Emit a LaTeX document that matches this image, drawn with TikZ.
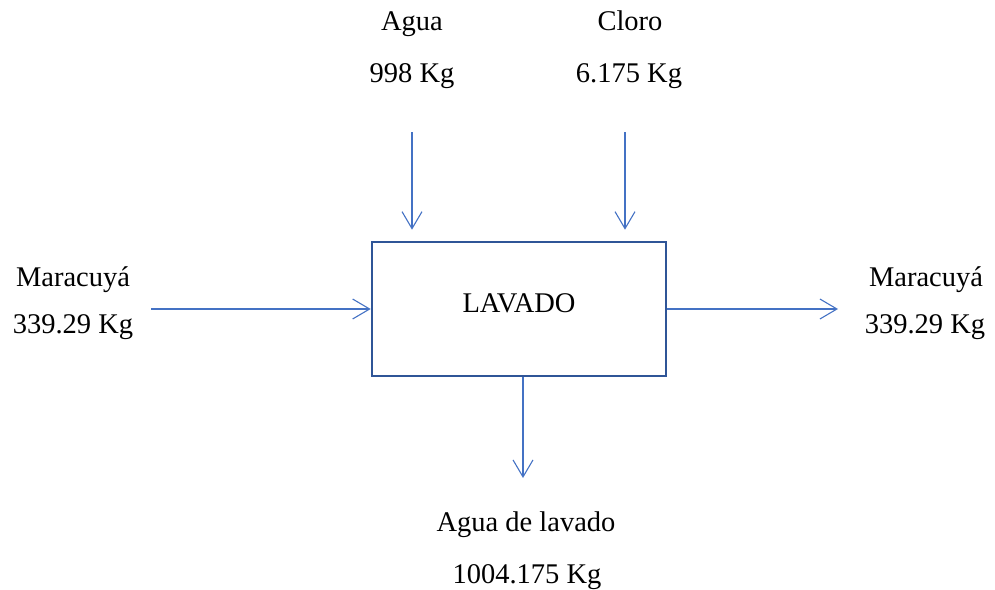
\documentclass[tikz,border=0pt]{standalone}
\usepackage{fontspec}
\setmainfont{Liberation Serif}
\usepackage{tikz}
\usetikzlibrary{arrows.meta}
\usetikzlibrary{positioning}

\definecolor{boxblue}{RGB}{47,85,151}
\definecolor{flowblue}{RGB}{68,114,196}

\begin{document}
\begin{tikzpicture}[x=1pt,y=-1pt,
  txt/.style={anchor=base,inner sep=0pt,font=\fontsize{28.5}{34}\selectfont},
  proc/.style={draw=boxblue,line width=2.6pt,minimum width=294pt,minimum height=134pt,inner sep=0pt},
  flow/.style={draw=flowblue,line width=1.1pt,-{Straight Barb[length=17pt,width=20pt]}}]
\useasboundingbox (0,0) rectangle (995,589);

% proceso
\node[proc] (lavado) at (519,309) {};
\node[txt] (lavado-txt) at (519,312) {LAVADO};

% entradas arriba
\node[txt] (agua) at (412,30) {Agua};
\node[txt] (agua-kg) at (412,82) {998 Kg};
\node[txt] (cloro) at (630,30) {Cloro};
\node[txt] (cloro-kg) at (629,82) {6.175 Kg};

% entrada y salida laterales
\node[txt] (mar-in) at (73,286) {Maracuyá};
\node[txt] (mar-in-kg) at (73,333) {339.29 Kg};
\node[txt] (mar-out) at (926,286) {Maracuyá};
\node[txt] (mar-out-kg) at (925,333) {339.29 Kg};

% salida abajo
\node[txt] (agua-lav) at (526,531) {Agua de lavado};
\node[txt] (agua-lav-kg) at (527,583) {1004.175 Kg};

\coordinate (agua-in) at (412,132);
\coordinate (cloro-in) at (625,132);
\coordinate (mar-start) at (151,309);
\coordinate (mar-end) at (838,309);
\coordinate (lav-end) at (523,478);

\draw[flow,shorten >=11pt] (agua-in) -- (agua-in |- lavado.north);
\draw[flow,shorten >=11pt] (cloro-in) -- (cloro-in |- lavado.north);
\draw[flow] (mar-start) -- (lavado.west);
\draw[flow] (lavado.east) -- (mar-end);
\draw[flow] (lav-end |- lavado.south) -- (lav-end);
\end{tikzpicture}
\end{document}
